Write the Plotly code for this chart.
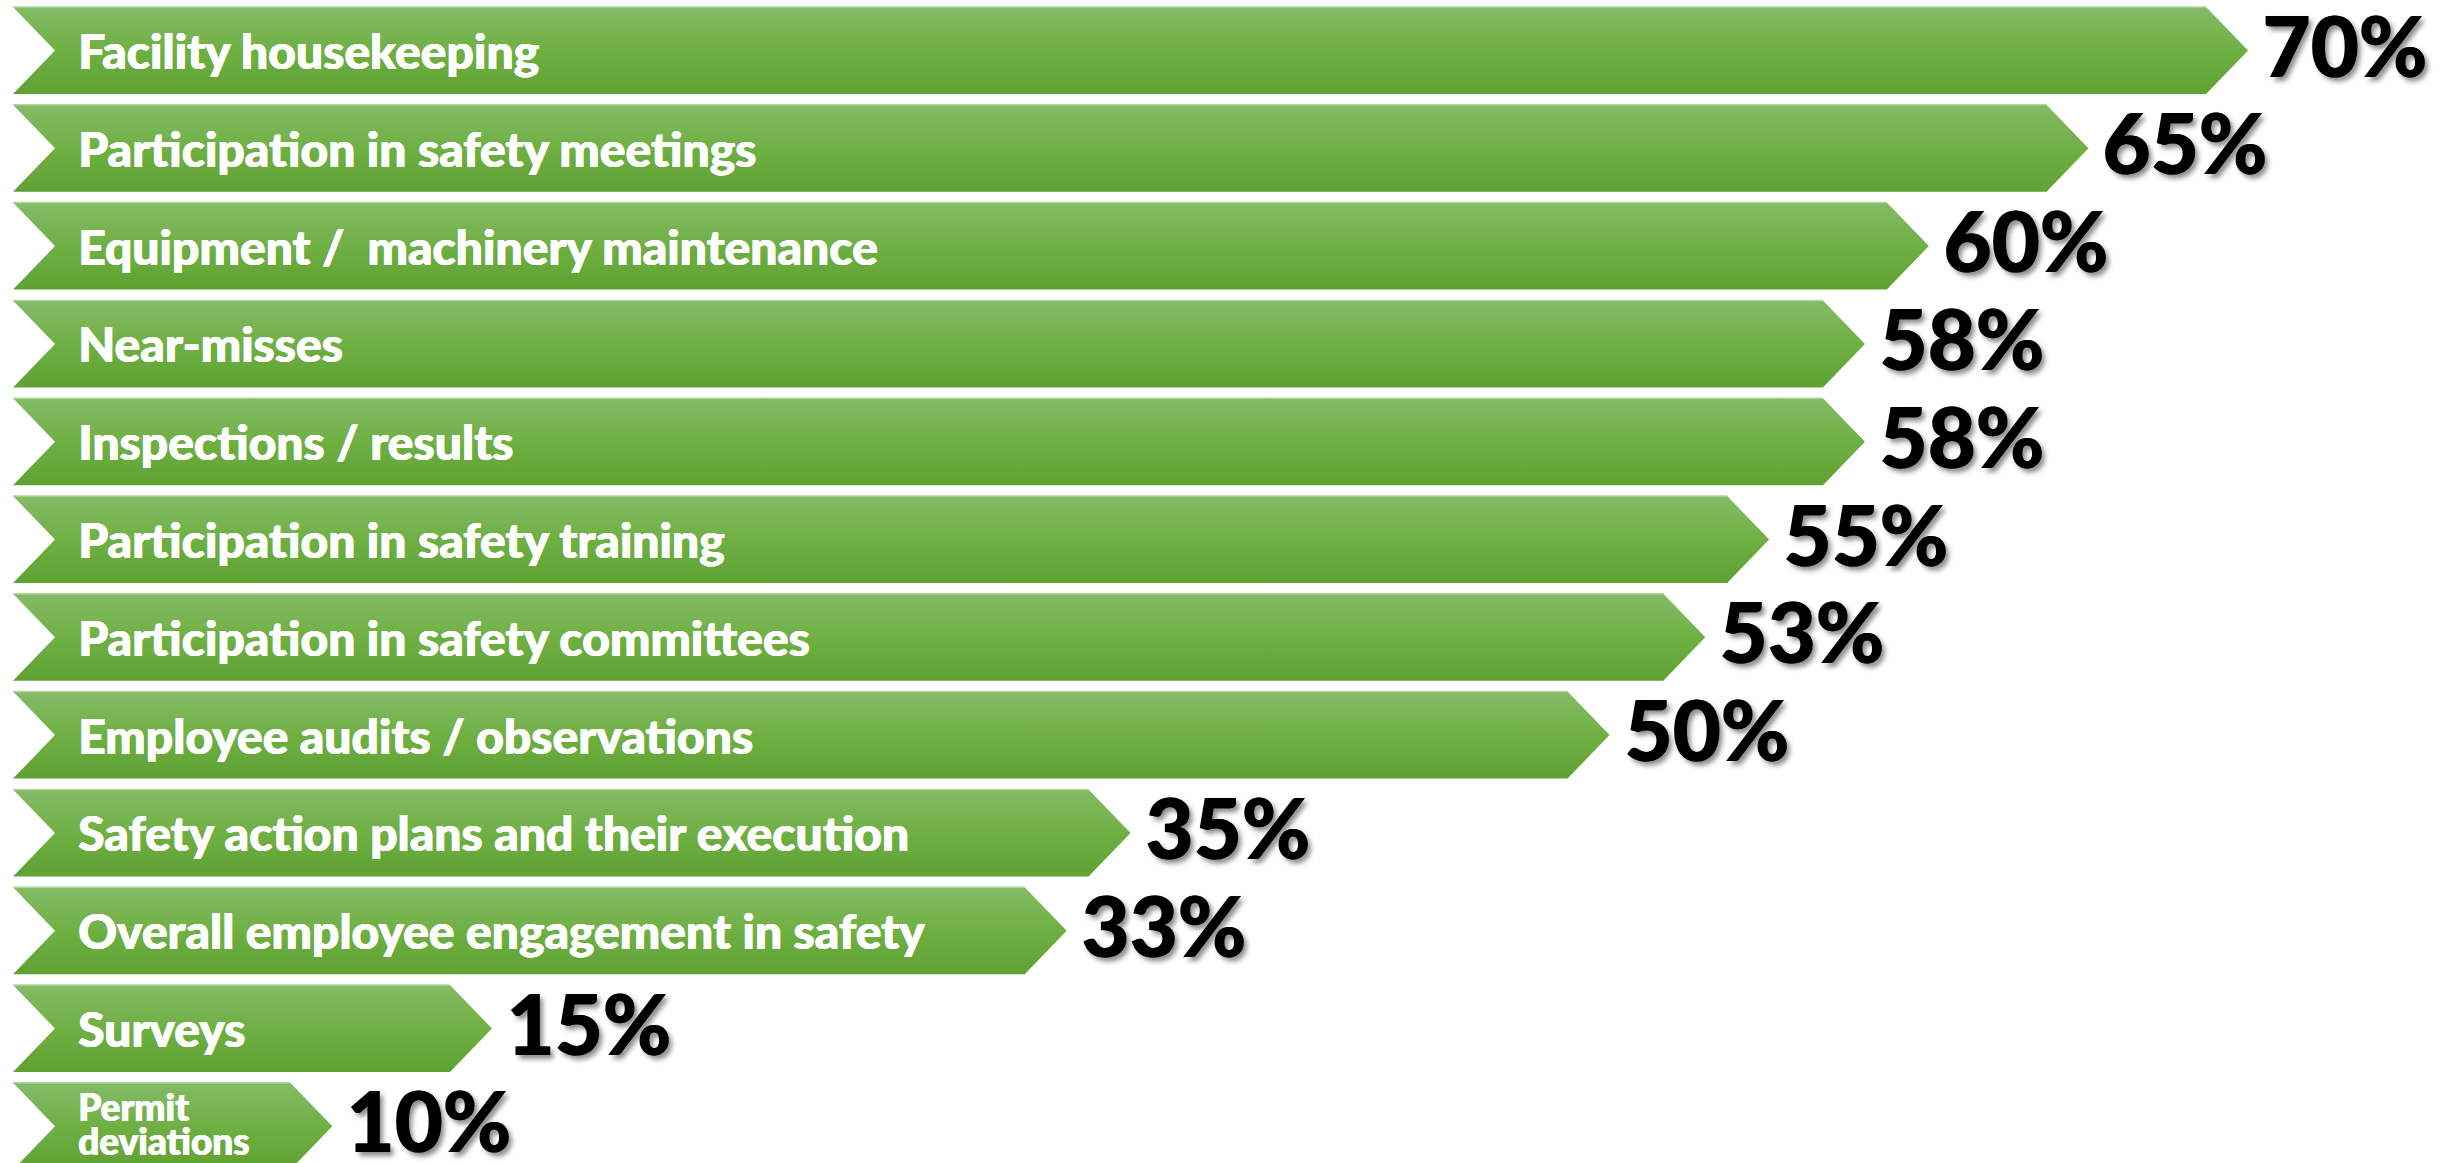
import plotly.graph_objects as go

categories = [
    "Facility housekeeping",
    "Participation in safety meetings",
    "Equipment /  machinery maintenance",
    "Near-misses",
    "Inspections / results",
    "Participation in safety training",
    "Participation in safety committees",
    "Employee audits / observations",
    "Safety action plans and their execution",
    "Overall employee engagement in safety",
    "Surveys",
    "Permit<br>deviations",
]
values = [70, 65, 60, 58, 58, 55, 53, 50, 35, 33, 15, 10]
value_labels = ["70%", "65%", "60%", "58%", "58%", "55%", "53%", "50%", "35%", "33%", "15%", "10%"]

W, H = 2453, 1163
px_per_unit = 31.93           # horizontal pixels per percentage point
x0 = -13 / px_per_unit
x1 = x0 + W / px_per_unit
pitch = 97.8                  # vertical pixels per row
y0 = -50.5 / pitch
y1 = y0 + H / pitch
half = 43.5 / pitch           # half bar height in row units
notch = 42 / px_per_unit
point = 42 / px_per_unit

white_bold = "0.7px 0 0 #ffffff, -0.3px 0 0 #ffffff"
black_bold = "1px 0 0 #000000, 4px 4px 5px rgba(0,0,0,0.45)"

fig = go.Figure()
for i, (cat, v) in enumerate(zip(categories, values)):
    xs = [0, v - point, v, v - point, 0, notch, 0]
    ys = [i - half, i - half, i, i + half, i + half, i, i - half]
    fig.add_trace(go.Scatter(
        x=xs, y=ys, mode="lines", fill="toself",
        line=dict(width=0, color="rgba(0,0,0,0)"),
        fillgradient=dict(type="vertical",
                          colorscale=[[0, "#5ea232"], [0.5, "#6fb043"], [1, "#84bb67"]]),
        hoverinfo="skip", showlegend=False,
    ))
    # light highlight along the top edge
    fig.add_trace(go.Scatter(
        x=[0, v - point], y=[i - half, i - half], mode="lines",
        line=dict(width=1.5, color="#b3d69f"),
        hoverinfo="skip", showlegend=False,
    ))
    lines = cat.split("<br>")
    if len(lines) == 1:
        fig.add_annotation(
            x=0, y=i, xref="x", yref="y", text=cat, showarrow=False,
            xanchor="left", yanchor="middle", xshift=63, align="left",
            font=dict(family="Lato", size=48, color="white", weight=900,
                      shadow=white_bold),
        )
    else:
        shifts = [20, -14]
        for line_text, ys_ in zip(lines, shifts):
            fig.add_annotation(
                x=0, y=i, xref="x", yref="y", text=line_text, showarrow=False,
                xanchor="left", yanchor="middle", xshift=63, yshift=ys_,
                align="left",
                font=dict(family="Lato", size=37, color="white", weight=900,
                          shadow=white_bold),
            )
    fig.add_annotation(
        x=v, y=i, xref="x", yref="y", text=value_labels[i], showarrow=False,
        xanchor="left", yanchor="middle", xshift=12, yshift=6,
        font=dict(family="Lato", size=83, color="black", weight=900,
                  shadow=black_bold),
    )

fig.update_xaxes(range=[x0, x1], visible=False, fixedrange=True)
fig.update_yaxes(range=[y1, y0], visible=False, fixedrange=True)
fig.update_layout(
    width=W, height=H, autosize=False,
    margin=dict(l=0, r=0, t=0, b=0, pad=0),
    paper_bgcolor="white", plot_bgcolor="white",
    hovermode=False,
)
fig.write_html("out.html", config={"displayModeBar": False},
               post_script="document.body.style.margin='0px';")
